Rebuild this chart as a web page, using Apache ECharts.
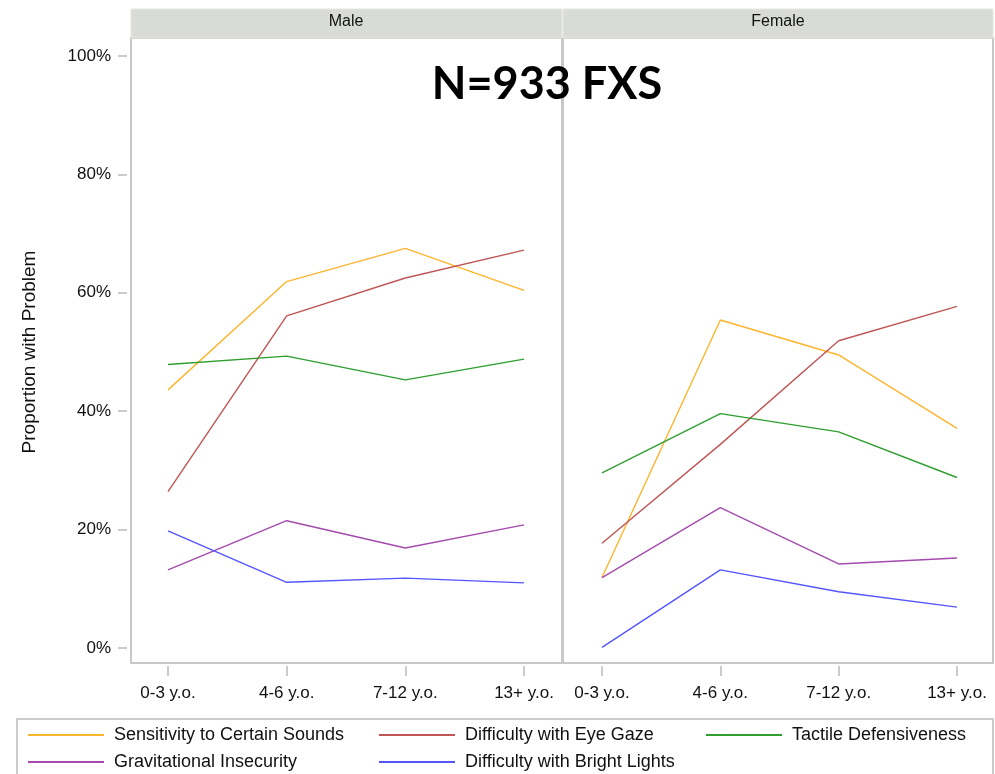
<!DOCTYPE html>
<html>
<head>
<meta charset="utf-8">
<script src="https://cdn.jsdelivr.net/npm/echarts@6/dist/echarts.min.js"></script>
<style>html,body{margin:0;padding:0;background:#fff}#c{width:995px;height:774px}</style>
</head>
<body>
<div id="c"></div>
<script>
var ageGroups = ['0-3 y.o.', '4-6 y.o.', '7-12 y.o.', '13+ y.o.'];
var panels = ['Male', 'Female'];
var yTicks = [0, 20, 40, 60, 80, 100];
var seriesNames = ['Sensitivity to Certain Sounds', 'Difficulty with Eye Gaze', 'Tactile Defensiveness', 'Gravitational Insecurity', 'Difficulty with Bright Lights'];
var seriesColors = ['#FFB42E', '#C05555', '#2E9E2E', '#A54AAE', '#5555FF'];

var maleSounds   = [43.6, 61.9, 67.5, 60.4];
var maleEyeGaze  = [26.4, 56.1, 62.5, 67.2];
var maleTactile  = [47.9, 49.3, 45.3, 48.8];
var maleGravit   = [13.2, 21.5, 16.9, 20.8];
var maleLights   = [19.8, 11.1, 11.8, 11.0];

var femaleSounds  = [11.9, 55.4, 49.5, 37.1];
var femaleEyeGaze = [17.7, 34.4, 51.9, 57.7];
var femaleTactile = [29.6, 39.6, 36.5, 28.8];
var femaleGravit  = [11.9, 23.7, 14.2, 15.2];
var femaleLights  = [0.1, 13.2, 9.5, 6.9];

var maleData = [maleSounds, maleEyeGaze, maleTactile, maleGravit, maleLights];
var femaleData = [femaleSounds, femaleEyeGaze, femaleTactile, femaleGravit, femaleLights];

var FONT = '"Liberation Sans", Arial, sans-serif';
var chart = echarts.init(document.getElementById('c'), null, {renderer: 'canvas'});

var series = [];
function addSeries(dataSet, axisIdx) {
  dataSet.forEach(function (d, i) {
    series.push({
      name: seriesNames[i], type: 'line', data: d,
      xAxisIndex: axisIdx, yAxisIndex: axisIdx,
      symbol: 'none', smooth: false, silent: true,
      lineStyle: {color: seriesColors[i], width: 1.4},
      itemStyle: {color: seriesColors[i]}
    });
  });
}
addSeries(maleData, 0);
addSeries(femaleData, 1);

var frame = {show: true, borderColor: '#c8c8c8', borderWidth: 2, backgroundColor: '#fff'};

function tickAxis(gi) {
  return {gridIndex: gi, type: 'category', data: ageGroups, boundaryGap: false,
    axisLine: {show: false},
    axisTick: {show: true, length: 10, alignWithLabel: true, lineStyle: {color: '#bbb', width: 1.5}},
    axisLabel: {margin: 19, fontSize: 17, color: '#111', fontFamily: FONT}, splitLine: {show: false}};
}
function hiddenCat(gi) {
  return {gridIndex: gi, type: 'category', data: ageGroups, boundaryGap: false, show: false};
}
function legendCol(left, names) {
  return {left: left, top: 726, orient: 'vertical', padding: 0, itemWidth: 76, itemHeight: 16, itemGap: 9,
    data: names, selectedMode: false,
    itemStyle: {opacity: 0, borderWidth: 0},
    textStyle: {fontSize: 18, color: '#111', fontFamily: FONT, padding: [0, 0, 0, 5]}};
}

var option = {
  animation: false,
  backgroundColor: '#fff',
  grid: [
    {left: 168, top: 56, width: 356, height: 592},
    {left: 602, top: 56, width: 355, height: 592},
    Object.assign({left: 131, top: 38, width: 431, height: 625, z: 0}, frame),
    Object.assign({left: 563, top: 38, width: 430, height: 625, z: 0}, frame),
    {left: 168, top: 56, width: 356, height: 610},
    {left: 602, top: 56, width: 355, height: 610}
  ],
  xAxis: [
    hiddenCat(0),
    hiddenCat(1),
    {gridIndex: 2, type: 'value', show: false},
    {gridIndex: 3, type: 'value', show: false},
    tickAxis(4),
    tickAxis(5)
  ],
  yAxis: [
    {gridIndex: 0, type: 'value', min: yTicks[0], max: yTicks[yTicks.length - 1], interval: 20, offset: 41,
     axisLine: {show: false}, axisTick: {show: true, length: 9, lineStyle: {color: '#bbb', width: 1.5}},
     axisLabel: {formatter: '{value}%', margin: 16, fontSize: 17, color: '#111', fontFamily: FONT},
     splitLine: {show: false},
     name: 'Proportion with Problem', nameLocation: 'middle', nameGap: 88, nameRotate: 90,
     nameTextStyle: {fontSize: 19, color: '#111', fontFamily: FONT}},
    {gridIndex: 1, type: 'value', min: yTicks[0], max: yTicks[yTicks.length - 1], interval: 20, show: false},
    {gridIndex: 2, type: 'value', show: false},
    {gridIndex: 3, type: 'value', show: false},
    {gridIndex: 4, type: 'value', show: false},
    {gridIndex: 5, type: 'value', show: false}
  ],
  legend: [
    legendCol(27, [seriesNames[0], seriesNames[3]]),
    legendCol(378, [seriesNames[1], seriesNames[4]]),
    legendCol(705, [seriesNames[2]])
  ],
  graphic: [
    {type: 'rect', shape: {x: 131, y: 9, width: 431, height: 29}, style: {fill: '#d9dcd6', stroke: '#e4e6e2', lineWidth: 1}, z: 1},
    {type: 'rect', shape: {x: 563, y: 9, width: 430, height: 29}, style: {fill: '#d9dcd6', stroke: '#e4e6e2', lineWidth: 1}, z: 1},
    {type: 'text', x: 346, y: 22, style: {text: panels[0], font: '16px ' + FONT, fill: '#111', textAlign: 'center', textVerticalAlign: 'middle'}, z: 2},
    {type: 'text', x: 778, y: 22, style: {text: panels[1], font: '16px ' + FONT, fill: '#111', textAlign: 'center', textVerticalAlign: 'middle'}, z: 2},
    {type: 'text', x: 547, y: 84, style: {text: 'N=933 FXS', font: 'bold 45px Lato, "Open Sans", sans-serif', fill: '#000', textAlign: 'center', textVerticalAlign: 'middle'}, z: 10},
    {type: 'rect', shape: {x: 17, y: 719, width: 976, height: 60}, style: {fill: 'none', stroke: '#cccccc', lineWidth: 2}, z: 1}
  ],
  series: series
};
chart.setOption(option);
</script>
</body>
</html>
